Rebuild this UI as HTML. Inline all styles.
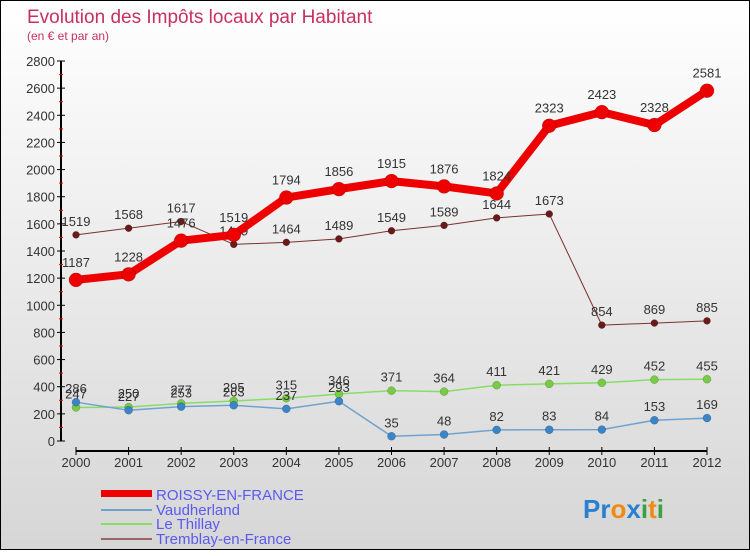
<!DOCTYPE html>
<html><head><meta charset="utf-8"><style>
body{margin:0;width:750px;height:550px;overflow:hidden}
#c{position:absolute;left:0;top:0;width:748px;height:548px;border:1px solid #000;background:linear-gradient(#ffffff,#d6d6d6)}
svg text{font-family:"Liberation Sans",sans-serif}
</style></head><body>
<div id="c">
<svg id="s" width="750" height="550" xmlns="http://www.w3.org/2000/svg">
<text x="26" y="22" font-size="19" fill="#c8305e">Evolution des Impôts locaux par Habitant</text>
<text x="26" y="39" font-size="12" fill="#c8305e">(en € et par an)</text>
<g id="axes"></g><g id="series"></g>
<g font-size="15" fill="#5a5af0">
<rect x="100" y="489" width="51" height="7" fill="#e00"/>
<text x="155" y="499" fill="#5a5af0">ROISSY-EN-FRANCE</text>
<line x1="100" y1="509" x2="151" y2="509" stroke="#6fa3cf" stroke-width="2"/>
<text x="155" y="514" fill="#5a5af0">Vaudherland</text>
<line x1="100" y1="523" x2="151" y2="523" stroke="#88dd66" stroke-width="2"/>
<text x="155" y="528" fill="#5a5af0">Le Thillay</text>
<line x1="100" y1="538" x2="151" y2="538" stroke="#996666" stroke-width="2"/>
<text x="155" y="543" fill="#5a5af0">Tremblay-en-France</text>
</g>
<text x="582" y="517" font-size="26" font-weight="bold"><tspan fill="#2a7fd0">Pr</tspan><tspan fill="#f08a10">o</tspan><tspan fill="#2a7fd0">x</tspan><tspan fill="#3aa040">i</tspan><tspan fill="#f08a10">t</tspan><tspan fill="#3aa040">i</tspan></text>
</svg></div>
<script>
const years=[2000,2001,2002,2003,2004,2005,2006,2007,2008,2009,2010,2011,2012];
const yTicks=[0,200,400,600,800,1000,1200,1400,1600,1800,2000,2200,2400,2600,2800];
const roissy=[1187,1228,1476,1519,1794,1856,1915,1876,1824,2323,2423,2328,2581];
const vaudherland=[286,227,253,263,237,293,35,48,82,83,84,153,169];
const thillay=[247,250,277,295,315,346,371,364,411,421,429,452,455];
const tremblay=[1519,1568,1617,1449,1464,1489,1549,1589,1644,1673,854,869,885];
const NS="http://www.w3.org/2000/svg";
const xS=i=>75+i*(706-75)/(years.length-1);
const yS=v=>440-v*(380/2800);
function mk(tag,attrs,parent){const e=document.createElementNS(NS,tag);for(const k in attrs)e.setAttribute(k,attrs[k]);parent.appendChild(e);return e;}
const ax=document.getElementById('axes');
let l=mk('line',{x1:60,y1:yS(2800),x2:60,y2:yS(0),stroke:'#000','stroke-width':2},ax);


yTicks.forEach(v=>{
 let t=mk('line',{x1:56,x2:64,y1:yS(v),y2:yS(v),stroke:'#000'},ax);
 
 
 if(v<2800){let m=mk('line',{x1:58,x2:62,y1:yS(v+100),y2:yS(v+100),stroke:'#e00'},ax);
 
 }
 let tx=mk('text',{x:54,y:yS(v)+5,'text-anchor':'end','font-size':13,fill:'#333'},ax);tx.textContent=v;
 
 
});
let xa=mk('line',{x1:75,y1:450,x2:706,y2:450,stroke:'#000','stroke-width':2},ax);


years.forEach((y,i)=>{
 let t=mk('line',{x1:xS(i),x2:xS(i),y1:446,y2:454,stroke:'#000'},ax);
 
 
 let tx=mk('text',{x:xS(i),y:466,'text-anchor':'middle','font-size':13,fill:'#333'},ax);tx.textContent=y;
 
 
});
const sg=document.getElementById('series');
function draw(vals,name,color,w,r,dot,labelOff){
 const g=mk('g',{},sg);
 
 
 const p=mk('polyline',{points:vals.map((v,i)=>xS(i)+','+yS(v)).join(' '),fill:'none',stroke:color,'stroke-width':w,'stroke-linejoin':'round'},g);
 
 
 vals.forEach((v,i)=>{
  const c=mk('circle',{cx:xS(i),cy:yS(v),r:r,fill:dot,stroke:'rgba(0,0,0,0.3)','stroke-width':0.5},g);
  
  
  const t=mk('text',{x:xS(i),y:yS(v)-labelOff,'text-anchor':'middle','font-size':13,fill:'#333'},g);t.textContent=v;
  
  
 });
}
draw(tremblay,'tremblay','#7a3030',1,3.5,'#6a1a1a',9);
draw(thillay,'le-thillay','#88dd66',1.5,4,'#77cc44',9);
draw(vaudherland,'vaudherland','#6fa3cf',1.5,4,'#3a85c8',9);
draw(roissy,'roissy','#ee0000',8,7,'#ee0000',13);
</script>
</body></html>
